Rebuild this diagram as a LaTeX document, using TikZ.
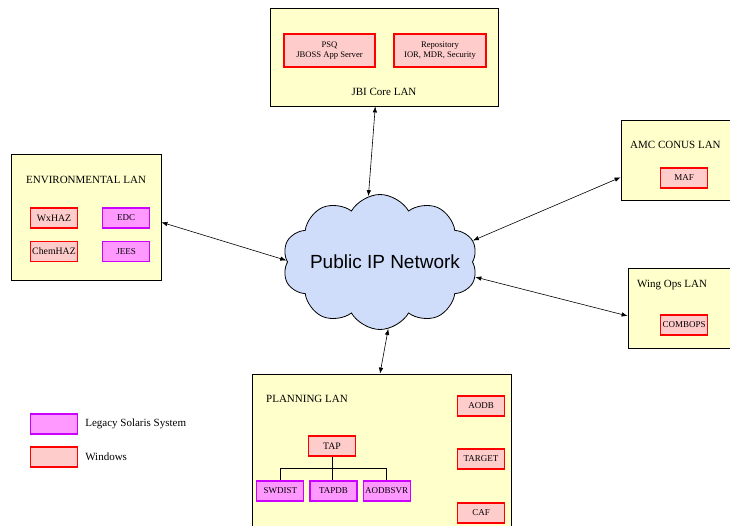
\documentclass[tikz,border=0pt]{standalone}
\usepackage{fontspec}
\setmainfont{Liberation Serif}
\newfontfamily\cloudfont{Liberation Sans}
\usetikzlibrary{arrows.meta,calc,positioning,shapes.symbols}
\definecolor{Cream}{HTML}{FFFFCC}
\definecolor{WinPink}{HTML}{FFCCCC}
\definecolor{WinRed}{HTML}{FF0000}
\definecolor{SolPink}{HTML}{FF99FF}
\definecolor{SolPurple}{HTML}{CC00FF}
\definecolor{NetBlue}{HTML}{CFDDFA}

\begin{document}
\begin{tikzpicture}[x=1pt,y=-1pt,node distance=5pt,
    lan/.style={draw=black,fill=Cream,line width=.8pt,inner sep=0pt},
    lanname/.style={font=\fontsize{11}{13}\selectfont,inner sep=0pt},
    win/.style={draw=WinRed,fill=WinPink,line width=1.2pt,minimum width=47pt,
                minimum height=20pt,inner sep=1pt,align=center,
                font=\fontsize{9}{10.5}\selectfont},
    sol/.style={win,draw=SolPurple,fill=SolPink},
    big/.style={font=\fontsize{9.8}{11}\selectfont},
    link/.style={{Latex[length=6pt,width=4.5pt]}-{Latex[length=6pt,width=4.5pt]},line width=.6pt}]
    \useasboundingbox (0,0) rectangle (730,526);
    % the network in the middle
    \node[cloud,cloud puffs=10,cloud puff arc=120,aspect=1.45,draw,fill=NetBlue,
          line width=.8pt,minimum width=195pt,minimum height=135pt,inner sep=0pt,
          font=\cloudfont\fontsize{19}{22}\selectfont] (net) at (380,262)
          {\makebox[0pt]{\raisebox{-8pt}{\kern10pt Public IP Network}}};
    % JBI core
    \node[lan,minimum width=228pt,minimum height=98pt] (core) at (384,57) {};
    \node[win,minimum width=91pt,minimum height=33pt,font=\fontsize{8.6}{10}\selectfont]
          (psq) at (329.5,50.5) {PSQ\\JBOSS App Server};
    \node[win,minimum width=92pt,minimum height=33pt,font=\fontsize{8.6}{10}\selectfont]
          (repo) at (440,50.5) {Repository\\IOR, MDR, Security};
    \node[lanname] (coreLbl) at (384,92) {JBI Core LAN};
    % environmental
    \node[lan,minimum width=150pt,minimum height=126pt] (env) at (86,217) {};
    \node[lanname,anchor=west] (envLbl) at (26,180) {ENVIRONMENTAL LAN};
    \node[win,big] (wxhaz) at (54,218) {WxHAZ};
    \node[sol,right=24pt of wxhaz] (edc) {EDC};
    \node[win,big,below=12pt of wxhaz] (chemhaz) {ChemHAZ};
    \node[sol,right=24pt of chemhaz] (jees) {JEES};
    % AMC conus
    \node[lan,minimum width=120pt,minimum height=80pt] (amc) at (681,160) {};
    \node[lanname,anchor=west] (amcLbl) at (630,145) {AMC CONUS LAN};
    \node[win] (maf) at (684,178) {MAF};
    % wing ops
    \node[lan,minimum width=112pt,minimum height=80pt] (wing) at (684,308) {};
    \node[lanname,anchor=west] (wingLbl) at (637,285) {Wing Ops LAN};
    \node[win] (combops) at (684,325) {COMBOPS};
    % planning
    \node[lan,minimum width=259pt,minimum height=170pt] (plan) at (381.5,459) {};
    \node[lanname,anchor=west] (planLbl) at (266,399) {PLANNING LAN};
    \node[win] (aodb) at (481,406) {AODB};
    \node[win] (target) at (481,459) {TARGET};
    \node[win] (caf) at (481,513) {CAF};
    \node[win,big] (tap) at (332,446) {TAP};
    \node[sol] (tapdb) at (333.5,491) {TAPDB};
    \node[sol,left=5pt of tapdb] (swdist) {SWDIST};
    \node[sol,right=5pt of tapdb] (aodbsvr) {AODBSVR};
    \draw[line width=.6pt] (tap.south) -- ++(0,12) coordinate (bus) -| (swdist.north);
    \draw[line width=.6pt] (bus) -| (aodbsvr.north);
    \draw[line width=.6pt] (bus) -- (bus |- tapdb.north);
    % legend
    \node[sol] (legSol) at (54,424) {};
    \node[lanname,anchor=west,right=7pt of legSol] (legSolTxt) {Legacy Solaris System};
    \node[win] (legWin) at (54,457) {};
    \node[lanname,anchor=west,right=7pt of legWin] (legWinTxt) {Windows};
    % links to the network
    \draw[link] (core.260) -- (net.100);
    \draw[link] (env.-4) -- (net.179);
    \draw[link] (amc.196) -- (net.13);
    \draw[link] (wing.188) -- (net.-9);
    \draw[link] (plan.91) -- (net.277);
  \end{tikzpicture}
\end{document}
